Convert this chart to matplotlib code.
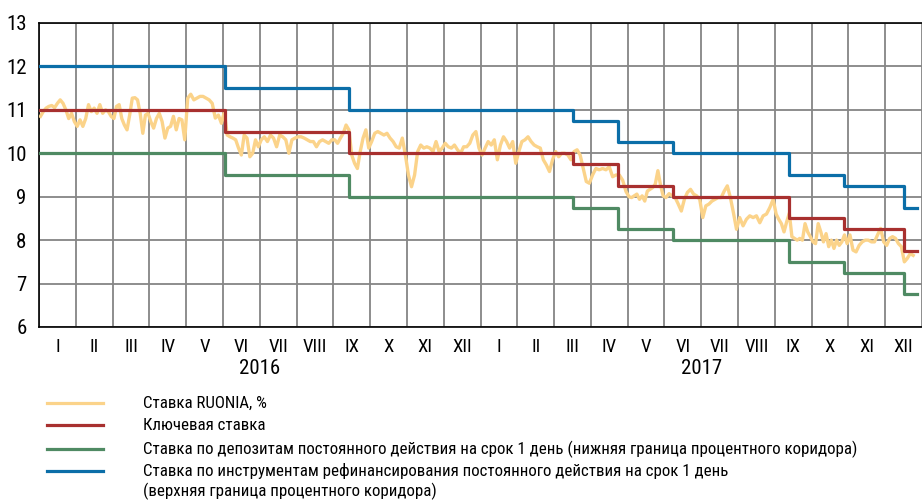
import numpy as np
import matplotlib
matplotlib.use("Agg")
import matplotlib.pyplot as plt
from matplotlib.lines import Line2D
import matplotlib.transforms as mtrans

plt.rcParams["font.family"] = ["Roboto Condensed", "Liberation Sans Narrow", "Roboto", "DejaVu Sans"]

# ---------------------------------------------------------------- data
MONTHS = ["I", "II", "III", "IV", "V", "VI", "VII", "VIII", "IX", "X", "XI", "XII"]
YEARS = ["2016", "2017"]

# RUONIA readings, one list per month (Jan 2016 .. Dec 2017)
ruonia_2016 = [
    [10.85, 10.96, 11.04, 11.08, 11.10, 11.05, 11.15, 11.23, 11.15, 11.00, 10.80, 10.92, 10.73],
    [10.62, 10.77, 10.62, 10.80, 11.12, 10.96, 11.04, 10.92, 11.12, 10.92, 11.00, 10.96, 10.85],
    [10.80, 11.08, 11.12, 10.80, 10.65, 10.54, 10.88, 11.27, 11.28, 11.23, 10.92, 10.46, 10.88, 10.92],
    [10.73, 10.58, 10.80, 10.92, 10.73, 10.35, 10.58, 10.62, 10.85, 10.54, 10.80, 10.77, 10.31],
    [11.27, 11.36, 11.23, 11.27, 11.31, 11.31, 11.27, 11.23, 11.15, 10.81, 10.88, 10.69],
    [10.96, 10.42, 10.38, 10.35, 10.31, 10.12, 9.96, 10.42, 10.35, 9.92, 10.00, 10.31, 10.15],
    [10.31, 10.38, 10.27, 10.42, 10.35, 10.15, 10.42, 10.38, 10.31, 10.00, 10.31, 10.35],
    [10.38, 10.38, 10.35, 10.31, 10.27, 10.27, 10.15, 10.27, 10.31, 10.27, 10.23, 10.31],
    [10.31, 10.23, 10.35, 10.46, 10.65, 10.54, 9.96, 9.77, 9.65, 10.04, 10.35, 10.54, 10.12],
    [10.27, 10.46, 10.50, 10.46, 10.42, 10.46, 10.35, 10.27, 10.15, 10.12, 10.35, 9.96],
    [9.50, 9.23, 9.50, 10.04, 10.19, 10.12, 10.15, 10.12, 10.04, 10.27, 10.04, 10.12],
    [10.23, 10.15, 10.12, 10.19, 10.08, 10.00, 10.15, 10.15, 10.23, 10.42, 10.50, 10.12],
]
ruonia_2017 = [
    [9.96, 10.12, 10.27, 10.19, 10.31, 9.85, 10.19, 10.38, 10.27, 10.12, 10.27, 9.77],
    [10.04, 10.27, 10.31, 10.38, 10.27, 10.19, 10.15, 10.12, 9.85, 9.73, 9.58, 9.85],
    [10.04, 9.92, 10.00, 10.00, 9.96, 9.85, 10.04, 10.08, 9.96, 9.65, 9.35, 9.31],
    [9.50, 9.65, 9.62, 9.65, 9.62, 9.69, 9.46, 9.50, 9.50, 9.38, 9.12],
    [9.00, 8.98, 9.02, 9.06, 8.94, 9.02, 8.90, 9.13, 9.17, 9.21, 9.29, 9.60, 9.27, 9.02],
    [8.98, 9.07, 9.02, 8.98, 8.83, 8.67, 8.94, 9.10, 9.17, 9.06, 9.02, 8.94],
    [8.52, 8.79, 8.83, 8.90, 8.94, 8.98, 8.98, 9.13, 9.25, 8.98, 8.63, 8.25],
    [8.52, 8.33, 8.48, 8.56, 8.52, 8.56, 8.40, 8.56, 8.60, 8.75, 8.94],
    [8.60, 8.48, 8.38, 8.19, 8.42, 8.62, 8.08, 8.04, 8.00, 8.04, 8.00, 8.38, 8.19, 8.08],
    [7.96, 7.92, 8.38, 8.19, 7.96, 8.15, 7.85, 8.00, 7.81, 8.00, 7.88, 7.96, 8.12, 7.92],
    [8.12, 7.77, 7.73, 7.88, 7.96, 8.00, 8.00, 7.96, 7.96, 8.12, 8.27, 7.96],
    [7.88, 8.04, 8.08, 8.04, 7.92, 7.85, 7.50, 7.58, 7.69, 7.65],
]
ruonia_last_fill = 0.8   # series stops before the end of Dec 2017

# policy rate changes, position in months from 1 Jan 2016
change_pos = [0.0, 5.05, 8.42, 14.52, 15.74, 17.22, 20.38, 21.87, 23.51]
key_rate = [11.00, 10.50, 10.00, 9.75, 9.25, 9.00, 8.50, 8.25, 7.75]
deposit_rate = [10.00, 9.50, 9.00, 8.75, 8.25, 8.00, 7.50, 7.25, 6.75]
refi_rate = [12.00, 11.50, 11.00, 10.75, 10.25, 10.00, 9.50, 9.25, 8.75]
X_END = 23.86

C = {"ruonia": "#fbd38a", "key": "#a8302f", "dep": "#4f8a63", "refi": "#0b6ea8"}
LABELS = [["Ставка RUONIA, %"],
          ["Ключевая ставка"],
          ["Ставка по депозитам постоянного действия на срок 1 день (нижняя граница процентного коридора)"],
          ["Ставка по инструментам рефинансирования постоянного действия на срок 1 день",
           "(верхняя граница процентного коридора)"]]

# ---------------------------------------------------------------- figure
W, H = 922, 503
fig = plt.figure(figsize=(W / 100, H / 100), dpi=100)
ax = fig.add_axes([39 / W, 1 - 327 / H, 1 - 39 / W, 304 / H])

rx, ry = [], []
monthly = ruonia_2016 + ruonia_2017
for k, vals in enumerate(monthly):
    n = len(vals)
    fill = ruonia_last_fill if k == len(monthly) - 1 else 1.0
    rx.extend(k + (np.arange(n) + 0.5) / n * fill)
    ry.extend(vals)
ax.plot(rx, ry, color=C["ruonia"], lw=2.4, zorder=3, solid_joinstyle="round")

sx = change_pos + [X_END]
for rates, key in ((deposit_rate, "dep"), (refi_rate, "refi"), (key_rate, "key")):
    ax.plot(sx, rates + [rates[-1]], drawstyle="steps-post", color=C[key],
            lw=2.3, zorder=4)

ax.set_xlim(0, X_END)
ax.set_ylim(6, 13)
ax.set_yticks(range(6, 14))
ax.set_xticks(range(0, 25))
ax.set_xticklabels([])
ax.set_xticks(np.arange(24) + 0.5, minor=True)
ax.set_xticklabels(MONTHS * 2, minor=True)
ax.tick_params(which="both", length=0)
ax.tick_params(axis="y", pad=9, labelsize=15)
ax.tick_params(axis="x", which="minor", pad=8, labelsize=13.5)
ax.grid(axis="x", which="major", color="#7a7a7a", lw=1.2)
ax.grid(axis="y", color="#858585", lw=1.3)
ax.set_axisbelow(True)
for sp in ("top", "left", "bottom"):
    ax.spines[sp].set_color("black")
    ax.spines[sp].set_linewidth(1.2)
ax.spines["right"].set_visible(False)

trans = mtrans.blended_transform_factory(ax.transData, ax.transAxes)
for i, yr in enumerate(YEARS):
    ax.text(6 + 12 * i, -0.135, yr, transform=trans, ha="center", va="center",
            fontsize=15)

# ---------------------------------------------------------------- legend
leg_y = [403, 425, 449, 471]
LINE_STEP = 20
for y, lines, key in zip(leg_y, LABELS, ("ruonia", "key", "dep", "refi")):
    fig.add_artist(Line2D([47 / W, 103 / W], [1 - y / H] * 2, color=C[key], lw=2.3))
    for j, txt in enumerate(lines):
        fig.text(143 / W, 1 - (y + j * LINE_STEP) / H, txt, ha="left", va="center",
                 fontsize=12.2)

fig.savefig("out.png", dpi=100, facecolor="white")
